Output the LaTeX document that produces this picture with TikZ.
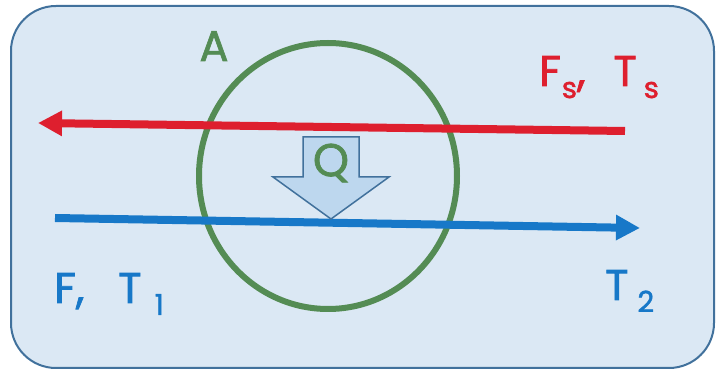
\documentclass[tikz,border=0pt]{standalone}
\usepackage{fontspec}
\setmainfont{Poppins}[FakeBold=1.6]
\usetikzlibrary{arrows.meta,shapes.geometric}
\definecolor{boxfill}{HTML}{DBE8F4}
\definecolor{boxline}{HTML}{41719C}
\definecolor{ringgreen}{HTML}{548C54}
\definecolor{flowred}{HTML}{DE1F2E}
\definecolor{flowblue}{HTML}{1778C8}
\definecolor{qfill}{HTML}{BDD7EE}
\newcommand{\subtx}[1]{\raisebox{-12pt}{\fontsize{29}{31}\selectfont #1}}
\tikzset{
  lbl/.style={inner sep=0pt, font=\fontsize{43}{45}\selectfont},
  flow/.style={line width=8pt, -{Triangle[length=24pt,width=24pt]}},
}
\begin{document}
\begin{tikzpicture}[x=1pt,y=-1pt]
\useasboundingbox (0,0) rectangle (716,374);
\draw[boxline, fill=boxfill, line width=2pt, rounded corners=45pt] (11,6) rectangle (714,368);
\node[draw=ringgreen, line width=6pt, ellipse, minimum width=258pt, minimum height=266pt, inner sep=0pt] (ring) at (328,176) {};
\coordinate (rs) at (625,131);
\coordinate (re) at (38,123);
\coordinate (bs) at (55,218);
\coordinate (be) at (640,228);
\draw[flow, flowred] (rs) -- (re);
\draw[flow, flowblue] (bs) -- (be);
\draw[boxline, fill=qfill, line width=1.5pt, line join=miter]
  (303,137) -- (359,137) -- (359,177) -- (389,177) -- (331,219) -- (273,177) -- (303,177) -- cycle;
\node[lbl, text=ringgreen, font=\fontsize{46}{48}\selectfont] (q) at (331,163) {Q};
\node[lbl, text=ringgreen, anchor=base] (a) at (214,61) {A};
\node[lbl, text=flowred, anchor=base west] (fs) at (539,86) {F\hspace{1pt}\subtx{s},\hspace{28pt}T\hspace{7pt}\subtx{s}};
\node[lbl, text=flowblue, anchor=base west] (ft) at (54,303) {F,\hspace{34pt}T\hspace{13pt}\subtx{1}};
\node[lbl, text=flowblue, anchor=base west] (t2) at (605,300) {T\hspace{9pt}\subtx{2}};
\end{tikzpicture}
\end{document}
